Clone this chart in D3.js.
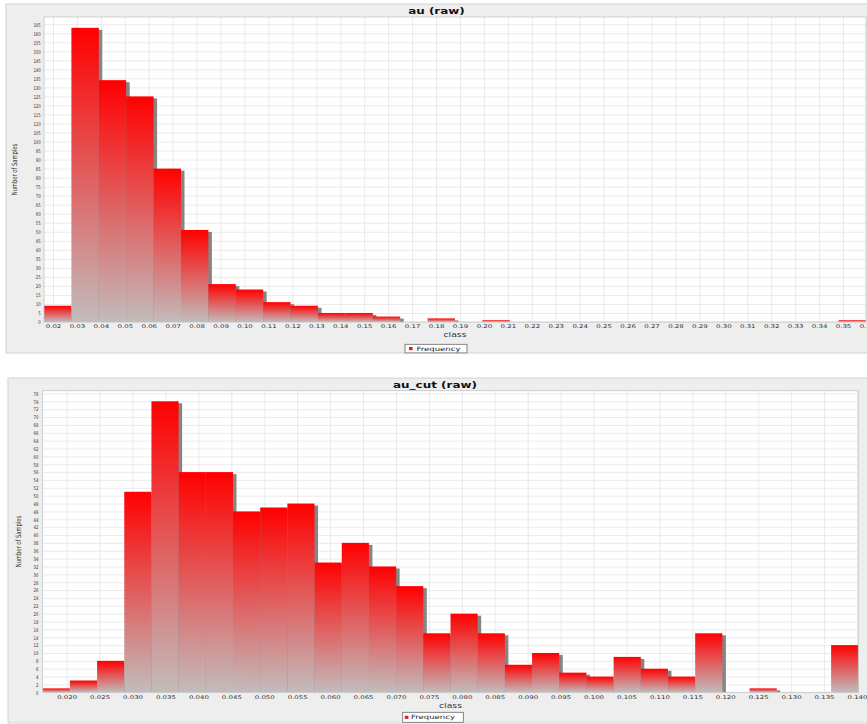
<!DOCTYPE html>
<html>
<head>
<meta charset="utf-8">
<script src="https://cdn.jsdelivr.net/npm/d3@7/dist/d3.min.js"></script>
<style>
  html, body { margin: 0; padding: 0; background: #ffffff; }
  svg { display: block; }
</style>
</head>
<body>
<svg id="chart" width="867" height="724"></svg>
<script>
// ---- au (raw): 30 equal-width bins between the minimum and maximum value ----
const auCounts = [9, 163, 134, 125, 85, 51, 21, 18, 11, 9, 5, 5, 3, 0, 2, 0, 1, 0, 0, 0,
                  0, 0, 0, 0, 0, 0, 0, 0, 0, 1];
const auRange = [0.01624, 0.3596];
const auXTicks = [0.02, 0.03, 0.04, 0.05, 0.06, 0.07, 0.08, 0.09, 0.10, 0.11, 0.12, 0.13,
                  0.14, 0.15, 0.16, 0.17, 0.18, 0.19, 0.20, 0.21, 0.22, 0.23, 0.24, 0.25,
                  0.26, 0.27, 0.28, 0.29, 0.30, 0.31, 0.32, 0.33, 0.34, 0.35, 0.36];
const auYTicks = [0, 5, 10, 15, 20, 25, 30, 35, 40, 45, 50, 55, 60, 65, 70, 75, 80, 85, 90,
                  95, 100, 105, 110, 115, 120, 125, 130, 135, 140, 145, 150, 155, 160, 165];

// ---- au_cut (raw): 30 equal-width bins ----
const auCutCounts = [1, 3, 8, 51, 74, 56, 56, 46, 47, 48, 33, 38, 32, 27, 15, 20, 15, 7, 10, 5,
                     4, 9, 6, 4, 15, 0, 1, 0, 0, 12];
const auCutRange = [0.01636, 0.1402];
const auCutXTicks = [0.020, 0.025, 0.030, 0.035, 0.040, 0.045, 0.050, 0.055, 0.060, 0.065,
                     0.070, 0.075, 0.080, 0.085, 0.090, 0.095, 0.100, 0.105, 0.110, 0.115,
                     0.120, 0.125, 0.130, 0.135, 0.140];
const auCutYTicks = [0, 2, 4, 6, 8, 10, 12, 14, 16, 18, 20, 22, 24, 26, 28, 30, 32, 34, 36, 38,
                     40, 42, 44, 46, 48, 50, 52, 54, 56, 58, 60, 62, 64, 66, 68, 70, 72, 74, 76];

const seriesName = "Frequency";
const xAxisTitle = "class";
const yAxisTitle = "Number of Samples";

const FONT = "'DejaVu Sans', Verdana, sans-serif";
const svg = d3.select("#chart");
const defs = svg.append("defs");

// vertical red-to-grey fill shared by every bar
const grad = defs.append("linearGradient")
  .attr("id", "barFill")
  .attr("x1", 0).attr("y1", 0).attr("x2", 0).attr("y2", 1);
grad.append("stop").attr("offset", "0%").attr("stop-color", "#ff0000");
grad.append("stop").attr("offset", "100%").attr("stop-color", "#c2bcbc");

// text helper: glyphs are drawn wider than tall, so each label carries its own x-scale
function label(g, x, y, str, o) {
  const t = g.append("text")
    .attr("transform", `translate(${x},${y}) ${o.rotate ? "rotate(-90) scale(1," + o.sx + ")" : "scale(" + o.sx + ",1)"}`)
    .attr("font-family", FONT)
    .attr("font-size", o.size)
    .attr("font-weight", o.weight || "normal")
    .attr("fill", o.fill || "#333")
    .attr("text-anchor", o.anchor || "middle")
    .text(str);
  return t;
}

function drawHistogram(id, title, counts, range, xTicks, yTicks, xFmt, L) {
  const g = svg.append("g").attr("class", id);

  // chart panel
  g.append("rect")
    .attr("x", L.panel.x).attr("y", L.panel.y)
    .attr("width", L.panel.w).attr("height", L.panel.h)
    .attr("fill", "#eeeeee").attr("stroke", "#d2d2d2").attr("stroke-width", 1);

  const P = L.plot;
  const x = d3.scaleLinear().domain(range).range([P.l, P.r]);
  const y = d3.scaleLinear().domain([0, L.yMax]).range([P.b, P.t]);

  // plot background
  g.append("rect")
    .attr("x", P.l).attr("y", P.t)
    .attr("width", P.r - P.l).attr("height", P.b - P.t)
    .attr("fill", "#ffffff");

  // grid lines
  const gy = g.append("g").attr("transform", `translate(${P.l},0)`)
    .call(d3.axisLeft(y).tickValues(yTicks).tickSize(-(P.r - P.l)).tickFormat(""));
  gy.select(".domain").remove();
  gy.selectAll("line").attr("stroke", "#e2e2e2").attr("stroke-width", 0.7);

  const gx = g.append("g").attr("transform", `translate(0,${P.b})`)
    .call(d3.axisBottom(x).tickValues(xTicks.filter(v => x(v) <= P.r)).tickSize(-(P.b - P.t)).tickFormat(""));
  gx.select(".domain").remove();
  gx.selectAll("line").attr("stroke", "#e2e2e2").attr("stroke-width", 0.7);

  // bins
  const binW = (range[1] - range[0]) / counts.length;
  const bins = counts.map((c, i) => ({ x0: range[0] + i * binW, x1: range[0] + (i + 1) * binW, c }))
                     .filter(b => b.c > 0);

  const clipId = id + "-clip";
  defs.append("clipPath").attr("id", clipId)
    .append("rect").attr("x", P.l).attr("y", P.t)
    .attr("width", P.r - P.l).attr("height", P.b - P.t);
  const marks = g.append("g").attr("clip-path", `url(#${clipId})`);

  // drop shadows first, bars on top
  marks.selectAll("rect.shadow").data(bins).join("rect")
    .attr("class", "shadow")
    .attr("x", b => x(b.x0) + L.shadow[0])
    .attr("y", b => y(b.c) + L.shadow[1])
    .attr("width", b => x(b.x1) - x(b.x0))
    .attr("height", b => Math.max(0, y(0) - y(b.c) - L.shadow[1]))
    .attr("fill", "#858585");

  marks.selectAll("rect.bar").data(bins).join("rect")
    .attr("class", "bar")
    .attr("x", b => x(b.x0))
    .attr("y", b => y(b.c))
    .attr("width", b => x(b.x1) - x(b.x0))
    .attr("height", b => y(0) - y(b.c))
    .attr("fill", "url(#barFill)");

  // plot outline
  g.append("rect")
    .attr("x", P.l).attr("y", P.t)
    .attr("width", P.r - P.l).attr("height", P.b - P.t)
    .attr("fill", "none").attr("stroke", "#c4c4c4").attr("stroke-width", 0.8);

  // y tick labels
  const ay = g.append("g").attr("transform", `translate(${P.l},0)`)
    .call(d3.axisLeft(y).tickValues(yTicks).tickSize(0));
  ay.select(".domain").remove();
  ay.selectAll("text")
    .attr("font-family", FONT).attr("font-size", 5).attr("fill", "#333")
    .attr("x", -L.yLabelGap / 0.77).attr("dy", "0.36em")
    .attr("transform", "scale(0.77,1)");

  // x tick labels
  const ax = g.append("g").attr("transform", `translate(0,${P.b})`)
    .call(d3.axisBottom(x).tickValues(xTicks).tickSize(0).tickFormat(d3.format(xFmt)));
  ax.select(".domain").remove();
  ax.selectAll("text")
    .attr("font-family", FONT).attr("font-size", 5).attr("fill", "#333")
    .attr("y", L.xLabelGap).attr("dy", null)
    .attr("transform", "scale(1.4,1)");

  // titles
  label(g, L.titleX, L.titleY, title, { size: 9, sx: 1.33, weight: "bold", fill: "#111" });
  label(g, (P.l + P.r) / 2, L.classY, xAxisTitle, { size: 7, sx: 1.33, fill: "#333" });
  label(g, L.yTitleX, (P.t + P.b) / 2, yAxisTitle, { size: 5.2, sx: 1.4, rotate: true, fill: "#333" });

  // legend
  const lg = L.legend;
  g.append("rect")
    .attr("x", lg.x).attr("y", lg.y).attr("width", lg.w).attr("height", lg.h)
    .attr("fill", "#ffffff").attr("stroke", "#6a6a6a").attr("stroke-width", 0.8);
  g.append("rect")
    .attr("x", lg.sx).attr("y", lg.y + lg.h / 2 - 1.6).attr("width", 3.6).attr("height", 3.2)
    .attr("fill", "#f01818");
  label(g, lg.tx, lg.ty, seriesName, { size: 6, sx: 1.42, anchor: "start", fill: "#222" });
}

drawHistogram("au", "au (raw)", auCounts, auRange, auXTicks, auYTicks, ".2f", {
  panel: { x: 6, y: 4, w: 880, h: 349 },
  plot: { l: 44, r: 866, t: 17, b: 322 },
  yMax: 169,
  shadow: [3.5, 2],
  yLabelGap: 3.3,
  xLabelGap: 6.3,
  titleX: 436.5, titleY: 13.6,
  classY: 337.2,
  yTitleX: 17.2,
  legend: { x: 405, y: 344.3, w: 62, h: 8.6, sx: 409, tx: 416.5, ty: 350.6 }
});

drawHistogram("au_cut", "au_cut (raw)", auCutCounts, auCutRange, auCutXTicks, auCutYTicks, ".3f", {
  panel: { x: 8, y: 378, w: 880, h: 345 },
  plot: { l: 42.7, r: 858.3, t: 390.7, b: 692.3 },
  yMax: 76.7,
  shadow: [3.5, 2],
  yLabelGap: 4.2,
  xLabelGap: 6.4,
  titleX: 435, titleY: 387.6,
  classY: 707.6,
  yTitleX: 21.3,
  legend: { x: 402.7, y: 712.3, w: 60.6, h: 10, sx: 404.8, tx: 411, ty: 719.2 }
});
</script>
</body>
</html>
